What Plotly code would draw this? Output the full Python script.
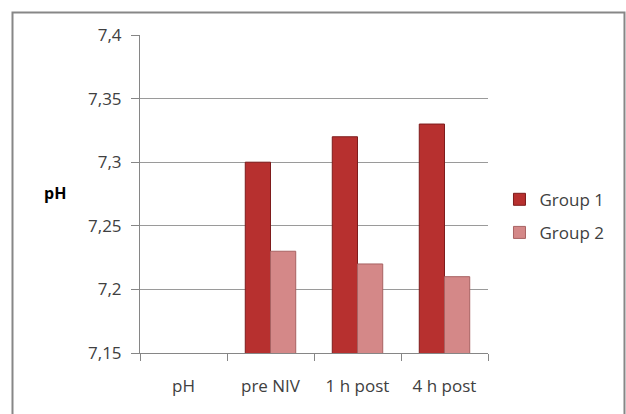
import plotly.graph_objects as go

categories = ["pH", "pre NIV", "1 h post", "4 h post"]
group1 = [None, 7.30, 7.32, 7.33]
group2 = [None, 7.23, 7.22, 7.21]
series_names = ["Group 1", "Group 2"]
y_tick_vals = [7.15, 7.2, 7.25, 7.3, 7.35, 7.4]
y_tick_text = ["7,15", "7,2", "7,25", "7,3", "7,35", "7,4"]
y_title = "pH"

FONT = "Open Sans"
fig = go.Figure()
fig.add_trace(go.Bar(
    x=categories, y=group1, name=series_names[0], legendgroup="g1",
    marker=dict(color="#B7302F", line=dict(color="#7E1C1C", width=1)),
))
fig.add_trace(go.Bar(
    x=categories, y=group2, name=series_names[1], legendgroup="g2",
    marker=dict(color="#D48888", line=dict(color="#A86262", width=1)),
))

fig.update_layout(
    width=626, height=414,
    margin=dict(l=140, r=138, t=35, b=61, autoexpand=False),
    paper_bgcolor="white", plot_bgcolor="white",
    barmode="group", bargap=0.42, bargroupgap=0,
    font=dict(family=FONT, size=17, color="#404040"),
    legend=dict(x=1.033, y=0.43, xanchor="left", yanchor="middle",
                font=dict(family=FONT, size=17, color="#404040"),
                traceorder="grouped", tracegroupgap=8, itemwidth=30,
                bgcolor="rgba(0,0,0,0)"),
    showlegend=True,
    shapes=[dict(type="rect", xref="paper", yref="paper",
                 x0=-0.3664, x1=1.3922, y0=-0.25, y1=1.0708,
                 line=dict(color="#878787", width=2), fillcolor="rgba(0,0,0,0)",
                 layer="below")],
    annotations=[dict(text="<b>" + y_title + "</b>", xref="paper", yref="paper",
                      x=-0.245, y=0.503, xanchor="center", yanchor="middle",
                      showarrow=False,
                      font=dict(family=FONT, size=16, color="#000000"))],
)
fig.update_yaxes(
    range=[7.15, 7.4], tickvals=y_tick_vals, ticktext=y_tick_text,
    showgrid=True, gridcolor="#9A9A9A", gridwidth=1,
    showline=True, linecolor="#868686", linewidth=1,
    ticks="outside", ticklen=8, tickcolor="#868686",
    ticklabelstandoff=6, zeroline=False,
)
fig.update_xaxes(
    showline=True, linecolor="#868686", linewidth=1,
    ticks="outside", tickson="boundaries", ticklen=7, tickcolor="#868686",
    ticklabelstandoff=18, showgrid=False,
)
fig.write_html("out.html", config={"displayModeBar": False},
               post_script="document.body.style.margin='0';document.body.style.overflow='hidden';")
